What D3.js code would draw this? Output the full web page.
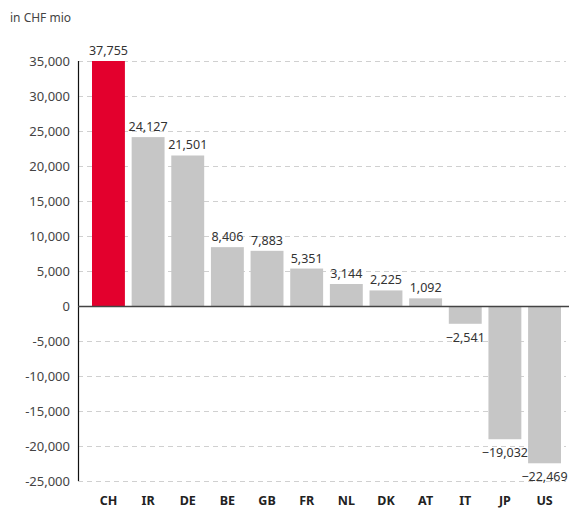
<!DOCTYPE html>
<html>
<head>
<meta charset="utf-8">
<script src="https://cdn.jsdelivr.net/npm/d3@7"></script>
<style>
  html, body { margin: 0; padding: 0; background: #fff; }
  svg { display: block; font-family: "Noto Sans", "Open Sans", sans-serif; }
</style>
</head>
<body>
<svg id="chart" width="569" height="508"></svg>
<script>
// Net positions by country, in CHF millions
const countries = ["CH", "IR", "DE", "BE", "GB", "FR", "NL", "DK", "AT", "IT", "JP", "US"];
const values = [37755, 24127, 21501, 8406, 7883, 5351, 3144, 2225, 1092, -2541, -19032, -22469];
const highlight = ["CH"];
const yTicks = [-25000, -20000, -15000, -10000, -5000, 0, 5000, 10000, 15000, 20000, 25000, 30000, 35000];
const unitLabel = "in CHF mio";

const svg = d3.select("#chart");
const axisX = 78;

const y = d3.scaleLinear().domain([-25000, 35000]).range([481, 61]).clamp(true);
const x = d3.scaleBand().domain(countries).range([92, 561]).paddingInner(0.17).paddingOuter(0);

const fmt = v => (v < 0 ? "\u2212" : "") + d3.format(",")(Math.abs(v));

// Unit label
svg.append("text").attr("x", 10).attr("y", 22)
  .attr("font-size", 12).attr("fill", "#444").text(unitLabel);

// Dashed grid lines
svg.append("g").selectAll("line").data(yTicks.filter(t => t !== 0)).join("line")
  .attr("x1", axisX).attr("x2", 566)
  .attr("y1", d => Math.round(y(d)) + 0.5).attr("y2", d => Math.round(y(d)) + 0.5)
  .attr("stroke", "#d0d0d0").attr("stroke-width", 1).attr("stroke-dasharray", "5,4");

// Y axis
const yAxis = d3.axisLeft(y).tickValues(yTicks).tickSize(0).tickPadding(8)
  .tickFormat(d => d3.format(",")(d).replace("\u2212", "-"));
const gy = svg.append("g").attr("transform", `translate(${axisX},0)`).call(yAxis);
gy.select(".domain").remove();
gy.selectAll("text").attr("font-size", 13).attr("fill", "#444")
  .attr("font-family", "\"Noto Sans\", \"Open Sans\", sans-serif");

svg.append("line").attr("x1", axisX + 0.5).attr("x2", axisX + 0.5)
  .attr("y1", y(35000)).attr("y2", y(-25000)).attr("stroke", "#111").attr("stroke-width", 1.2);

// Bars
const data = countries.map((c, i) => ({ c, v: values[i] }));
svg.append("g").selectAll("rect").data(data).join("rect")
  .attr("x", d => x(d.c)).attr("width", x.bandwidth())
  .attr("y", d => Math.min(y(d.v), y(0)))
  .attr("height", d => Math.abs(y(d.v) - y(0)))
  .attr("fill", d => highlight.includes(d.c) ? "#e3002d" : "#c6c6c6");

// Zero line
svg.append("line").attr("x1", axisX).attr("x2", 569)
  .attr("y1", Math.round(y(0)) + 0.5).attr("y2", Math.round(y(0)) + 0.5)
  .attr("stroke", "#444").attr("stroke-width", 1.3);

// Value labels
svg.append("g").selectAll("text").data(data).join("text")
  .attr("x", d => x(d.c) + x.bandwidth() / 2)
  .attr("y", d => d.v >= 0 ? y(d.v) - 6 : y(d.v) + 18)
  .attr("text-anchor", "middle").attr("font-size", 12.5).attr("fill", "#333")
  .text(d => fmt(d.v));

// Category labels
svg.append("g").selectAll("text").data(countries).join("text")
  .attr("x", d => x(d) + x.bandwidth() / 2).attr("y", 505)
  .attr("text-anchor", "middle").attr("font-size", 12.5).attr("font-weight", "bold")
  .attr("fill", "#222").text(d => d);
</script>
</body>
</html>
